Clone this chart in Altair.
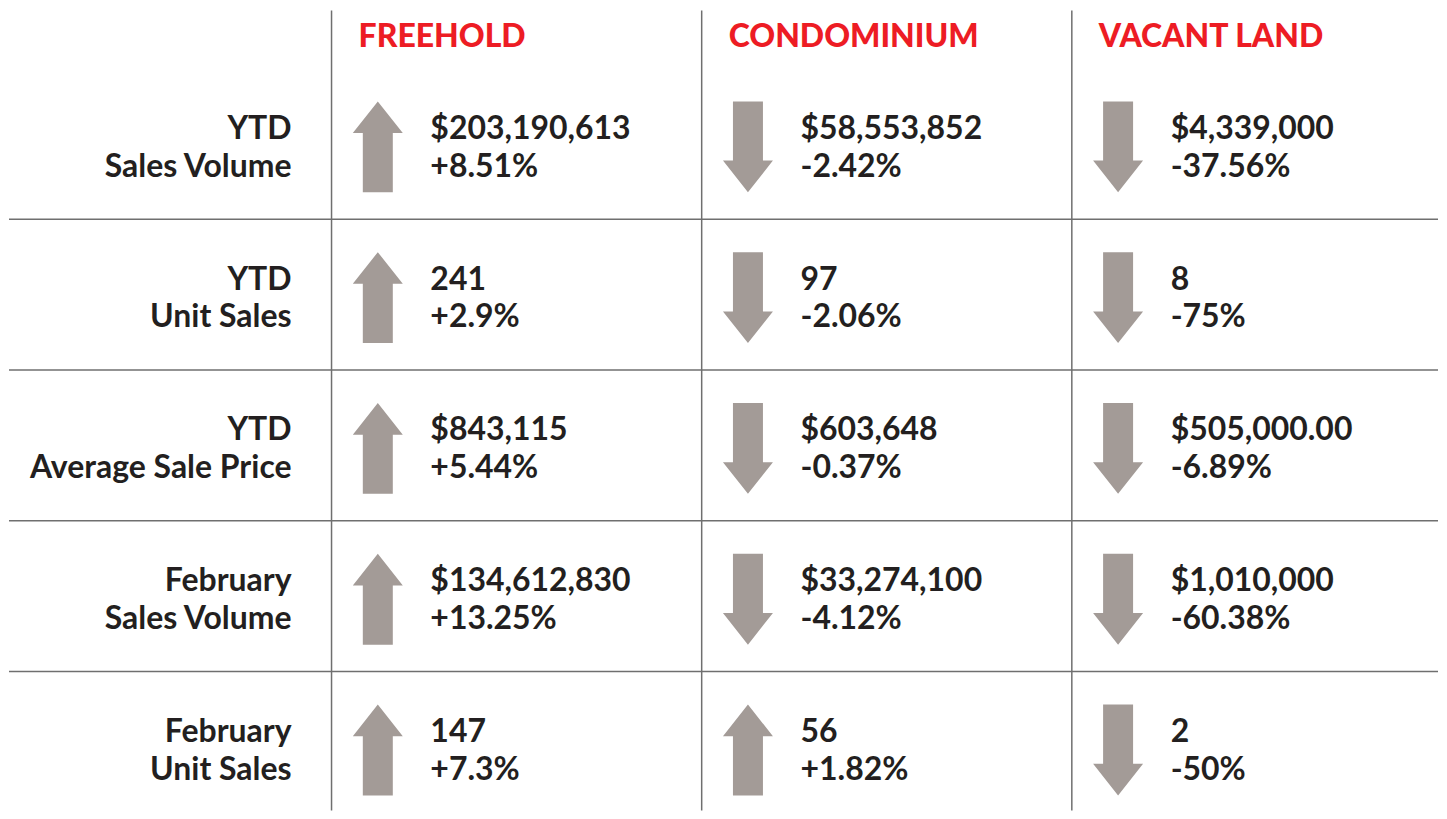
import altair as alt
import pandas as pd

# ---- content ----
columns = ["FREEHOLD", "CONDOMINIUM", "VACANT LAND"]
row_line1 = ["YTD", "YTD", "YTD", "February", "February"]
row_line2 = ["Sales Volume", "Unit Sales", "Average Sale Price", "Sales Volume", "Unit Sales"]

freehold_values = ["$203,190,613", "241", "$843,115", "$134,612,830", "147"]
freehold_changes = ["+8.51%", "+2.9%", "+5.44%", "+13.25%", "+7.3%"]
condo_values = ["$58,553,852", "97", "$603,648", "$33,274,100", "56"]
condo_changes = ["-2.42%", "-2.06%", "-0.37%", "-4.12%", "+1.82%"]
vacant_values = ["$4,339,000", "8", "$505,000.00", "$1,010,000", "2"]
vacant_changes = ["-37.56%", "-75%", "-6.89%", "-60.38%", "-50%"]

values = [freehold_values, condo_values, vacant_values]
changes = [freehold_changes, condo_changes, vacant_changes]

# ---- tables ----
cells = []
for c in range(len(columns)):
    for r in range(len(row_line1)):
        ch = changes[c][r]
        cells.append({
            "col": c, "row": r,
            "value": values[c][r], "change": ch,
            "dir": "down" if ch.startswith("-") else "up",
        })
cells = pd.DataFrame(cells)
labels = pd.DataFrame({"row": list(range(len(row_line1))), "l1": row_line1, "l2": row_line2})
heads = pd.DataFrame({"col": list(range(len(columns))), "name": columns})

hlines = pd.DataFrame({"y": [r + 0.5 for r in range(len(row_line1) - 1)]})
vlines = pd.DataFrame({"x": list(range(len(columns)))})

W, H = 1431, 803
XD = [-0.8714, 2.9893]
YD = [-0.897, 4.421]
xs = alt.Scale(domain=XD, range=[0, W], nice=False, zero=False)
ys = alt.Scale(domain=YD, range=[0, H], nice=False, zero=False)

FONT = "Lato"
TEXT = "#231f20"
RED = "#ed1c24"
GREY = "#a39b97"
LINE = "#6f6f6f"

UP = "M0,-1 L0.55,-0.303 L0.33,-0.303 L0.33,1 L-0.33,1 L-0.33,-0.303 L-0.55,-0.303 Z"
DOWN = "M0,1 L0.55,0.303 L0.33,0.303 L0.33,-1 L-0.33,-1 L-0.33,0.303 L-0.55,0.303 Z"

base_cells = alt.Chart(cells)

hrule = alt.Chart(hlines).mark_rule(color=LINE, strokeWidth=1.5).encode(
    y=alt.Y("y:Q", scale=ys, axis=None),
    x=alt.value(0), x2=alt.value(W),
)
vrule = alt.Chart(vlines).mark_rule(color=LINE, strokeWidth=1.5).encode(
    x=alt.X("x:Q", scale=xs, axis=None),
    y=alt.value(2), y2=alt.value(H),
)

arrows = base_cells.transform_calculate(
    ax="datum.col + 0.125", ay="datum.row + 0.02"
).mark_point(filled=True, opacity=1, strokeWidth=0, size=91 * 91).encode(
    x=alt.X("ax:Q", scale=xs, axis=None),
    y=alt.Y("ay:Q", scale=ys, axis=None),
    shape=alt.Shape("dir:N", scale=alt.Scale(domain=["up", "down"], range=[UP, DOWN]), legend=None),
    color=alt.value(GREY),
)

txt_kw = dict(font=FONT, fontWeight="bold", fontSize=32, color=TEXT, baseline="middle")

val1 = base_cells.transform_calculate(
    tx="datum.col + 0.267", ty="datum.row + 0.026"
).mark_text(align="left", dy=-19, **txt_kw).encode(
    x=alt.X("tx:Q", scale=xs, axis=None), y=alt.Y("ty:Q", scale=ys, axis=None), text="value:N"
)
val2 = base_cells.transform_calculate(
    tx="datum.col + 0.267", ty="datum.row + 0.026"
).mark_text(align="left", dy=19, **txt_kw).encode(
    x=alt.X("tx:Q", scale=xs, axis=None), y=alt.Y("ty:Q", scale=ys, axis=None), text="change:N"
)

lab1 = alt.Chart(labels).transform_calculate(
    tx="-0.108", ty="datum.row + 0.026"
).mark_text(align="right", dy=-19, **txt_kw).encode(
    x=alt.X("tx:Q", scale=xs, axis=None), y=alt.Y("ty:Q", scale=ys, axis=None), text="l1:N"
)
lab2 = alt.Chart(labels).transform_calculate(
    tx="-0.108", ty="datum.row + 0.026"
).mark_text(align="right", dy=19, **txt_kw).encode(
    x=alt.X("tx:Q", scale=xs, axis=None), y=alt.Y("ty:Q", scale=ys, axis=None), text="l2:N"
)

head = alt.Chart(heads).transform_calculate(
    tx="datum.col + 0.073", ty="-0.705"
).mark_text(align="left", font=FONT, fontWeight=900, fontSize=32, color=RED, baseline="middle").encode(
    x=alt.X("tx:Q", scale=xs, axis=None), y=alt.Y("ty:Q", scale=ys, axis=None), text="name:N"
)

chart = alt.layer(hrule, vrule, arrows, val1, val2, lab1, lab2, head).properties(
    width=W, height=H, padding=0, background="white"
).configure_view(stroke=None, strokeWidth=0)

chart.save("out.html", embed_options={"renderer": "svg", "actions": False})
